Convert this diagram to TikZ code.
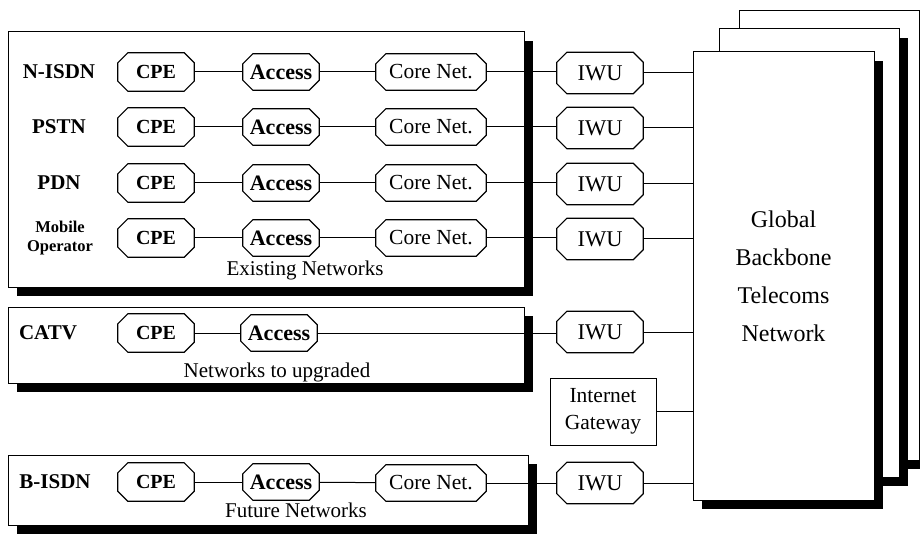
\documentclass[tikz,border=0pt]{standalone}
\usepackage{fontspec}
\setmainfont{Liberation Serif}
\usetikzlibrary{shadows}
% octagonal frame round a rectangular node, corners cut by 10pt
\newcommand\octframe[1]{%
  \draw[octline] ([xshift=10pt]#1.north west) -- ([xshift=-10pt]#1.north east)
    -- ([yshift=-10pt]#1.north east) -- ([yshift=10pt]#1.south east)
    -- ([xshift=-10pt]#1.south east) -- ([xshift=10pt]#1.south west)
    -- ([yshift=10pt]#1.south west) -- ([yshift=-10pt]#1.north west) -- cycle;}
\begin{document}
\begin{tikzpicture}[x=1pt,y=-1pt,
  oct/.style={rectangle, inner sep=0pt, minimum height=38pt},
  octline/.style={draw, line width=1.2pt, fill=white, line join=miter},
  cpebox/.style={oct, minimum width=76pt},
  accbox/.style={oct, minimum width=76pt, minimum height=36pt},
  corebox/.style={oct, minimum width=110pt, minimum height=36pt},
  iwubox/.style={oct, minimum width=86pt, minimum height=41pt},
  netlabel/.style={font=\fontsize{21}{24}\selectfont\bfseries},
  caption/.style={font=\fontsize{21}{24}\selectfont},
  shadowbox/.style={draw, line width=1pt, fill=white, inner sep=0pt,
    drop shadow={shadow xshift=9pt, shadow yshift=-9pt, opacity=1, fill=black}},
  link/.style={line width=1pt}
]
\clip (0,0) rectangle (920,537);
\fill[white] (0,0) rectangle (920,537);

% Network group frames
\node[shadowbox, minimum width=516pt, minimum height=255pt] (exist) at (266,159.5) {};
\node[shadowbox, minimum width=516pt, minimum height=76pt] (upgr) at (266,345) {};
\node[shadowbox, minimum width=520pt, minimum height=70pt] (future) at (268,490) {};

% Global backbone stack
\node[shadowbox, minimum width=180pt, minimum height=449pt] (gback) at (829,235.5) {};
\node[shadowbox, minimum width=180pt, minimum height=448pt] (gmid) at (809,253) {};
\node[shadowbox, minimum width=181pt, minimum height=448pt, align=center,
  font=\fontsize{24}{38}\selectfont] (gbtn) at (783.5,276)
  {Global\\Backbone\\Telecoms\\Network};

% Element nodes (frames drawn below, text placed last)
\foreach \i/\y in {1/72, 2/127, 3/183, 4/238} {
  \node[cpebox] (cpe\i) at (156,\y) {};
  \node[accbox] (acc\i) at (281,\y) {};
  \node[corebox] (core\i) at (431,\y) {};
  \node[iwubox] (iwu\i) at (600,\y+1) {};
}
\node[cpebox] (cpe5) at (156,333) {};
\node[accbox] (acc5) at (279,333) {};
\node[iwubox] (iwu5) at (600,332) {};
\node[cpebox] (cpe6) at (156,482) {};
\node[accbox] (acc6) at (281,482) {};
\node[corebox] (core6) at (431,483) {};
\node[iwubox] (iwu6) at (600,483) {};
\node[draw, line width=1pt, fill=white, minimum width=106pt, minimum height=67pt] (igw) at (603,411.5) {};

% Connectors
\foreach \i in {1,2,3,4} {
  \draw[link] (cpe\i) -- (acc\i);
  \draw[link] (acc\i) -- (core\i);
  \draw[link] (core\i.east) -- (iwu\i.west |- core\i.east);
  \draw[link] (iwu\i) -- (gbtn.west |- iwu\i);
}
\draw[link] (cpe5) -- (acc5);
\draw[link] (acc5.east) -- (iwu5.west |- acc5.east);
\draw[link] (iwu5) -- (gbtn.west |- iwu5);
\draw[link] (igw) -- (gbtn.west |- igw);
\draw[link] (cpe6) -- (acc6);
\draw[link] (acc6) -- (core6);
\draw[link] (core6) -- (iwu6);
\draw[link] (iwu6) -- (gbtn.west |- iwu6);

% Octagonal frames
\foreach \n in {cpe1,cpe2,cpe3,cpe4,cpe5,cpe6,acc1,acc2,acc3,acc4,acc5,acc6,
  core1,core2,core3,core4,core6,iwu1,iwu2,iwu3,iwu4,iwu5,iwu6} {
  \octframe{\n}
}

% Texts
\foreach \i in {1,2,3,4,5,6} {
  \node[font=\fontsize{20}{24}\selectfont\bfseries] at (cpe\i) {CPE};
  \node[font=\fontsize{22}{24}\selectfont\bfseries] at (acc\i) {Access};
  \node[font=\fontsize{22.5}{24}\selectfont] at (iwu\i) {IWU};
}
\foreach \i in {1,2,3,4,6} {
  \node[font=\fontsize{21.5}{24}\selectfont] at (core\i) {Core Net.};
}
\node[align=center, font=\fontsize{21.5}{27}\selectfont] at (igw) {Internet\\Gateway};

% Network labels and captions
\node[netlabel] (lab1) at (59,72) {N-ISDN};
\node[netlabel] (lab2) at (59,127) {PSTN};
\node[netlabel] (lab3) at (59,183) {PDN};
\node[netlabel, font=\fontsize{16.5}{19}\selectfont\bfseries, align=center] (lab4) at (60,238) {Mobile\\Operator};
\node[caption] (capexist) at (305,270) {Existing Networks};
\node[netlabel] (lab5) at (48,333) {CATV};
\node[caption] (capupgr) at (277,372) {Networks to upgraded};
\node[netlabel] (lab6) at (55,482) {B-ISDN};
\node[caption] (capfuture) at (296,510) {Future Networks};
\end{tikzpicture}
\end{document}
